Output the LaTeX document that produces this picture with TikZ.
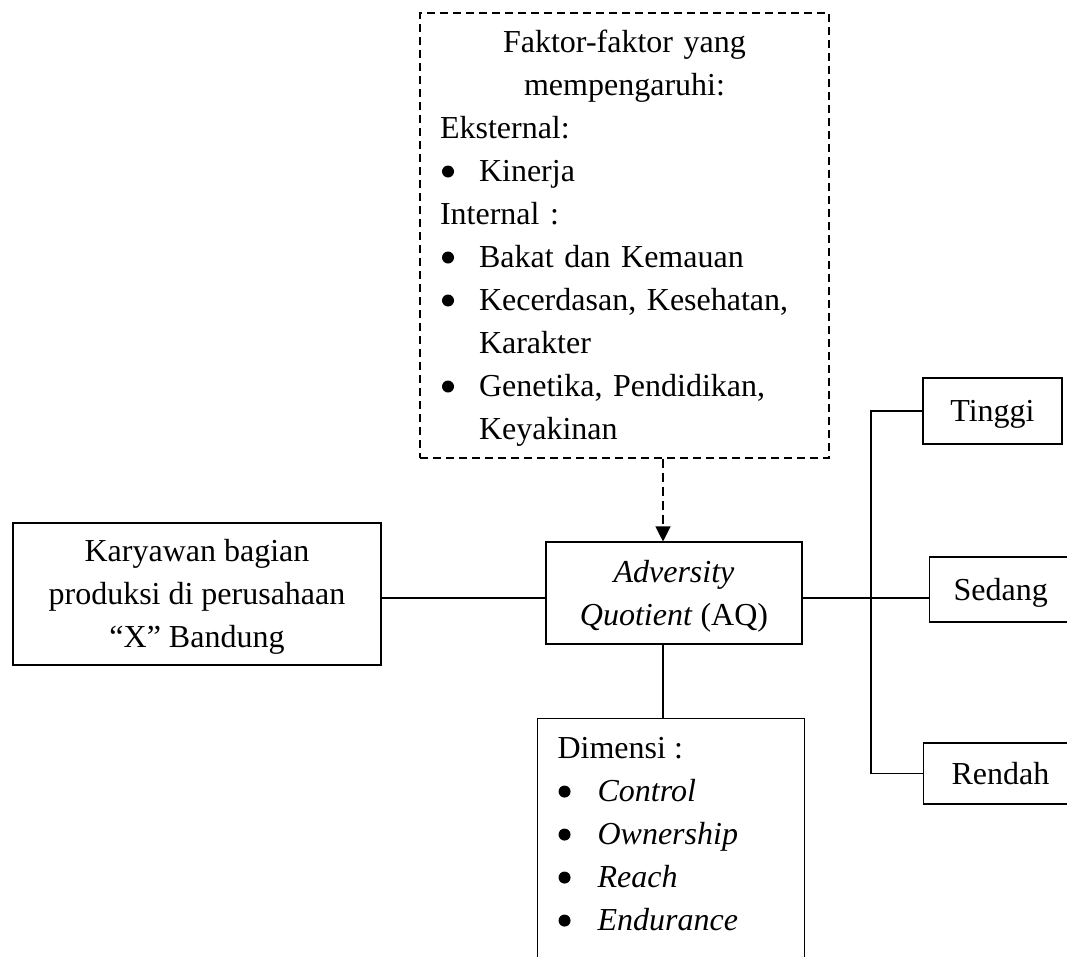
\documentclass[tikz,border=0pt]{standalone}
\usepackage{fontspec}
\setmainfont{Liberation Serif}
\usetikzlibrary{arrows.meta}
\newcommand\ls{\rule[-11pt]{0pt}{43pt}}
\newsavebox\bulbox
\newcommand\bulA{\makebox[39pt][l]{\hspace{2pt}\raisebox{4pt}{\usebox\bulbox}}}
\newcommand\bulB{\makebox[40pt][l]{\hspace{1pt}\raisebox{4pt}{\usebox\bulbox}}}
\begin{document}
\sbox\bulbox{\pgfpicture\pgfpathcircle{\pgfpointorigin}{6pt}\pgfusepath{fill}\endpgfpicture}%
\begin{tikzpicture}[x=1pt,y=-1pt,
  every node/.style={font=\fontsize{32}{43}\selectfont},
  box/.style={draw,line width=1.1pt,rectangle},
  dbox/.style={draw,line width=1.1pt,rectangle,dash pattern=on 8pt off 5pt},
  conn/.style={line width=1.1pt},
  dconn/.style={line width=1.1pt,dash pattern=on 9pt off 5pt,-{Triangle[length=15pt,width=15pt]}}]
\useasboundingbox (0,0) rectangle (1067,956);
\fill[white] (0,0) rectangle (1067,956);

% dashed factor box
\node[dbox,align=left,text width=369pt,inner xsep=20pt,inner ysep=0pt,minimum height=445pt] (fak) at (624.5,235.5)
 {\makebox[369pt][c]{\ls Faktor-faktor yang}\\
  \makebox[369pt][c]{\ls mempengaruhi:}\\
  \ls Eksternal:\\
  \ls\bulA Kinerja\\
  \ls Internal :\\
  \ls\bulA Bakat dan Kemauan\\
  \ls\bulA Kecerdasan, Kesehatan,\\
  \ls\hspace*{39pt}Karakter\\
  \ls\bulA Genetika, Pendidikan,\\
  \ls\hspace*{39pt}Keyakinan};

% left box
\node[box,align=center,minimum width=368pt,minimum height=142pt,inner sep=0pt] (kar) at (197,594)
 {\ls Karyawan bagian\\ \ls produksi di perusahaan\\ \ls “X” Bandung};

% AQ box
\node[box,align=center,minimum width=256pt,minimum height=102pt,inner sep=0pt] (aq) at (674,593)
 {\ls\textit{Adversity}\\ \ls\textit{Quotient} (AQ)};

% dimension box
\node[box,anchor=north west,inner xsep=20pt,inner ysep=8pt] (dim) at (537,718)
 {\parbox[t][240pt][t]{227pt}{\ls Dimensi :\\
  \ls\bulB\textit{Control}\\
  \ls\bulB\textit{Ownership}\\
  \ls\bulB\textit{Reach}\\
  \ls\bulB\textit{Endurance}}};

% right boxes
\node[box,align=center,minimum width=139pt,minimum height=66pt,inner sep=0pt] (tin) at (992.5,411) {\ls Tinggi};
\node[box,anchor=west,align=left,text width=176pt,inner xsep=24pt,inner ysep=0pt,minimum height=65pt] (sed) at (929,589.5) {\ls Sedang};
\node[box,anchor=west,align=left,text width=176pt,inner xsep=28pt,inner ysep=0pt,minimum height=61pt] (ren) at (923,773.5) {\ls Rendah};

% connectors
\coordinate (mid) at (0,598);
\coordinate (stem) at (663,0);
\coordinate (bus) at (871,598);
\draw[conn] (kar.east |- mid) -- (aq.west |- mid);
\draw[conn] (aq.east |- mid) -- (sed.west |- mid);
\draw[conn] (tin.west) -| (bus) |- (ren.west);
\draw[dconn] (fak.south -| stem) -- (aq.north -| stem);
\draw[conn] (aq.south -| stem) -- (dim.north -| stem);
\end{tikzpicture}
\end{document}
